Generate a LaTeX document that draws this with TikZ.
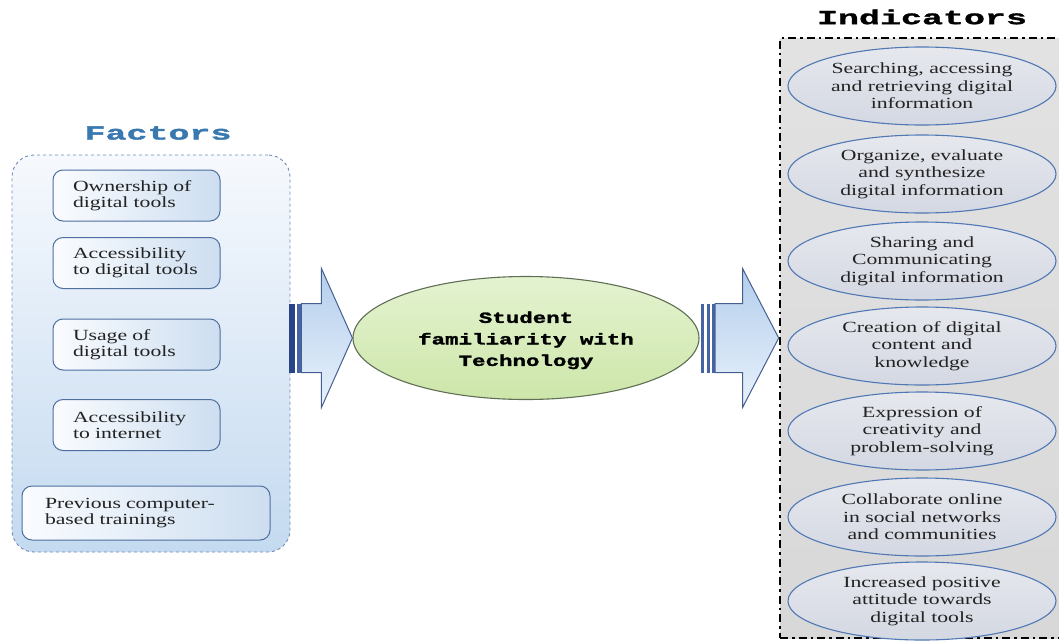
\documentclass[tikz,border=0pt]{standalone}
\usepackage{fontspec}
\setmainfont{Liberation Serif}
\newfontfamily\boxfont[FakeStretch=1.4]{Liberation Serif}
\newfontfamily\titlefont[FakeStretch=1.75,BoldFeatures={FakeBold=1.6}]{Liberation Mono}
\newfontfamily\centerfont[FakeStretch=1.45,BoldFeatures={FakeBold=1.8}]{Liberation Mono}
\usetikzlibrary{shapes.geometric,calc}
\definecolor{titleblue}{RGB}{58,120,176}
\definecolor{contborder}{RGB}{110,140,180}
\definecolor{contlight}{RGB}{246,249,253}
\definecolor{contdark}{RGB}{196,218,240}
\definecolor{boxborder}{RGB}{78,110,160}
\definecolor{boxlight}{RGB}{250,252,255}
\definecolor{boxdark}{RGB}{205,222,240}
\definecolor{arrowborder}{RGB}{70,95,145}
\definecolor{arrowlight}{RGB}{232,241,251}
\definecolor{arrowdark}{RGB}{180,206,236}
\definecolor{stripedark}{RGB}{40,68,135}
\definecolor{stripemid}{RGB}{70,100,165}
\definecolor{greenlight}{RGB}{228,243,208}
\definecolor{greendark}{RGB}{205,230,170}
\definecolor{greenborder}{RGB}{95,110,85}
\definecolor{indgray}{RGB}{216,216,216}
\definecolor{indgraylight}{RGB}{226,226,226}
\definecolor{ellfill}{RGB}{230,232,238}
\definecolor{ellfilldark}{RGB}{212,216,226}
\definecolor{ellborder}{RGB}{80,120,180}
\definecolor{textdark}{RGB}{35,35,35}
\tikzset{
  container/.style={draw=contborder, dashed, line width=0.9pt, rounded corners=22pt,
    top color=contlight, bottom color=contdark, inner sep=0pt},
  factorbox/.style={draw=boxborder, line width=1pt, rounded corners=10pt,
    left color=boxlight, right color=boxdark, align=left, text=textdark,
    font=\boxfont\fontsize{15.5}{16}\selectfont, inner ysep=0pt},
  smallfactor/.style={factorbox, text width=127pt, inner xsep=20pt, minimum height=51pt},
  widefactor/.style={factorbox, text width=202pt, inner xsep=23pt, minimum height=54pt},
  titletext/.style={font=\titlefont\bfseries\fontsize{20}{22}\selectfont},
  centerell/.style={ellipse, draw=greenborder, line width=1.1pt,
    top color=greenlight, bottom color=greendark, align=center, text=black,
    font=\centerfont\bfseries\fontsize{15.5}{21.5}\selectfont, inner sep=0pt},
  indbox/.style={draw=black, line width=2.6pt,
    dash pattern=on 8pt off 4pt on 2.5pt off 4pt,
    top color=indgraylight, bottom color=indgray, inner sep=0pt},
  indell/.style={ellipse, draw=ellborder, line width=1.1pt,
    top color=ellfill, bottom color=ellfilldark, align=center, text=textdark,
    font=\boxfont\fontsize{15.5}{17.5}\selectfont, inner sep=0pt,
    minimum width=268pt, minimum height=78pt},
  blockarrow/.style={draw=arrowborder, line width=1pt, top color=arrowdark,
    bottom color=arrowlight, shading angle=0},
  stripeA/.style={fill=stripedark, draw=none},
  stripeB/.style={fill=stripemid, draw=none}
}
\begin{document}
\begin{tikzpicture}[x=1pt,y=-1pt]
\useasboundingbox (0,0) rectangle (1059,643);

% ---------- Factors ----------
\node[titletext, text=titleblue] (ftitle) at (158,133) {Factors};
\node[container, minimum width=278pt, minimum height=397pt] (factors) at (151,353.5) {};
\node[smallfactor] (f1) at (136.5,195.5) {Ownership of\\digital tools};
\node[smallfactor] (f2) at (136.5,263) {Accessibility\\to digital tools};
\node[smallfactor] (f3) at (136.5,344.5) {Usage of\\digital tools};
\node[smallfactor] (f4) at (136.5,425) {Accessibility\\to internet};
\node[widefactor] (f5) at (146,513) {Previous computer-\\based trainings};

% ---------- Indicators ----------
\node[indbox, minimum width=300pt, minimum height=600pt] (ind) at (930,338) {};
\node[titletext, text=black] (ititle) at (922,17) {Indicators};
\node[indell] (i1) at (922,86) {Searching, accessing\\and retrieving digital\\information};
\node[indell] (i2) at (922,174) {Organize, evaluate\\and synthesize\\digital information};
\node[indell] (i3) at (922,261) {Sharing and\\Communicating\\digital information};
\node[indell] (i4) at (922,346) {Creation of digital\\content and\\knowledge};
\node[indell] (i5) at (922,431) {Expression of\\creativity and\\problem-solving};
\node[indell] (i6) at (922,517) {Collaborate online\\in social networks\\and communities};
\node[indell] (i7) at (922,601) {Increased positive\\attitude towards\\digital tools};

% ---------- Centre ----------
\node[centerell, minimum width=346pt, minimum height=123pt] (student) at (526,338)
  {\rule{0pt}{16pt}Student\\familiarity with\\Technology};

% ---------- Left striped arrow ----------
\coordinate (L) at (factors.east |- student.west);
\fill[stripeA] ($(L)+(-1,-34.5)$) rectangle ($(L)+(5,34.5)$);
\fill[stripeB] ($(L)+(7,-34.5)$) rectangle ($(L)+(11,34.5)$);
\draw[blockarrow] ($(L)+(11,-34.5)$) -- ($(L)+(31,-34.5)$) -- ($(L)+(31,-69.5)$)
  -- (student.west) -- ($(L)+(31,69.5)$) -- ($(L)+(31,34.5)$) -- ($(L)+(11,34.5)$) -- cycle;

% ---------- Right striped arrow ----------
\coordinate (R) at (student.east);
\fill[stripeB] ($(R)+(1,-34.5)$) rectangle ($(R)+(4.5,34.5)$);
\fill[stripeB] ($(R)+(7,-34.5)$) rectangle ($(R)+(10.5,34.5)$);
\fill[stripeB] ($(R)+(12,-34.5)$) rectangle ($(R)+(15.5,34.5)$);
\draw[blockarrow] ($(R)+(15.5,-34.5)$) -- ($(R)+(43,-34.5)$) -- ($(R)+(43,-69.5)$)
  -- (ind.west) -- ($(R)+(43,69.5)$) -- ($(R)+(43,34.5)$) -- ($(R)+(15.5,34.5)$) -- cycle;
\end{tikzpicture}
\end{document}
